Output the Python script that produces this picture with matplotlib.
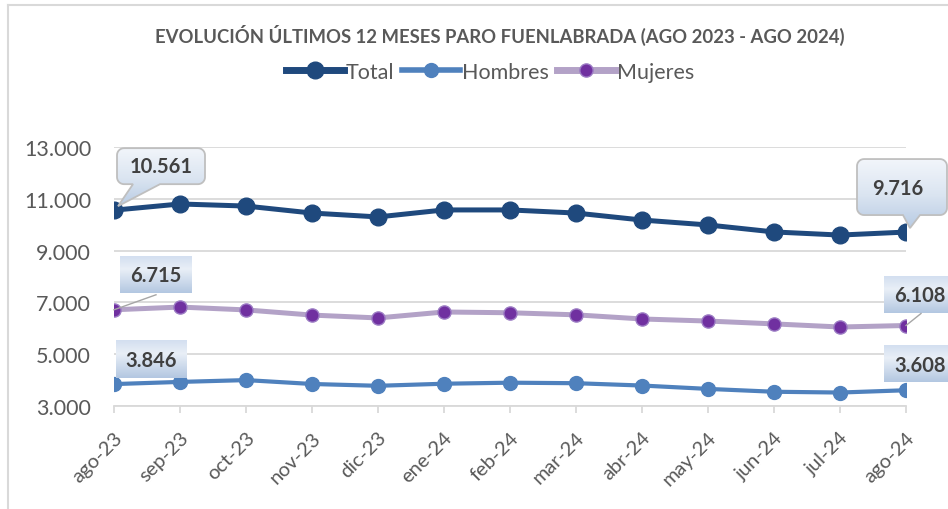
import numpy as np
import matplotlib
matplotlib.use("Agg")
from matplotlib import pyplot as plt
from matplotlib.patches import Polygon, Rectangle
from matplotlib.lines import Line2D
from matplotlib.colors import to_rgb
import matplotlib.transforms as mtrans

plt.rcParams['font.family'] = ['Lato', 'DejaVu Sans']

# datos
meses = ['ago-23', 'sep-23', 'oct-23', 'nov-23', 'dic-23', 'ene-24', 'feb-24',
         'mar-24', 'abr-24', 'may-24', 'jun-24', 'jul-24', 'ago-24']
total = [10561, 10800, 10720, 10450, 10300, 10570, 10570, 10450, 10180, 9990, 9720, 9600, 9716]
hombres = [3846, 3930, 4000, 3850, 3780, 3860, 3900, 3880, 3790, 3660, 3550, 3520, 3608]
mujeres = [6715, 6820, 6710, 6510, 6400, 6630, 6600, 6520, 6360, 6280, 6170, 6050, 6108]
yticks = [3000, 5000, 7000, 9000, 11000, 13000]

W, H = 948, 510
fig = plt.figure(figsize=(W / 100, H / 100), dpi=100)

gris = '#d9d9d9'
txt_gris = '#595959'

ax = fig.add_axes([114 / W, (H - 407) / H, (906 - 114) / W, (407 - 148) / H])
x = np.arange(len(meses))

ax.plot(x, hombres, color='#4f81bd', lw=3.0, marker='o', ms=10, zorder=3, solid_capstyle='round')
ax.plot(x, mujeres, color='#b3a2c7', lw=3.6, marker='o', ms=9.5, mfc='#7030a0', mec='#9c7cc4',
        mew=1, zorder=3)
ax.plot(x, total, color='#1f497d', lw=3.6, marker='o', ms=12, zorder=4)

ax.set_xlim(0, len(meses) - 1)
ax.set_ylim(yticks[0], yticks[-1])
ax.set_yticks(yticks)
ax.set_yticklabels([f"{v:,}".replace(',', '.') for v in yticks])
ax.set_xticks(x)
ax.set_xticklabels(meses, rotation=45, ha='right', va='center', rotation_mode='anchor')
ax.grid(axis='y', color=gris, lw=1.3)
ax.set_axisbelow(True)
for s in ['top', 'right', 'left']:
    ax.spines[s].set_visible(False)
ax.spines['bottom'].set_color(gris)
ax.spines['bottom'].set_linewidth(1.3)
ax.tick_params(axis='y', length=0, pad=16.5, labelsize=15.5, labelcolor=txt_gris)
ax.tick_params(axis='x', length=5, width=1.3, color=gris, pad=15.5, labelsize=14.5, labelcolor=txt_gris)
off = mtrans.ScaledTranslation(4 / 72, 0, fig.dpi_scale_trans)
for lab in ax.get_xticklabels():
    lab.set_transform(lab.get_transform() + off)

# titulo y leyenda
fig.text(500 / W, 1 - 35 / H, 'EVOLUCIÓN ÚLTIMOS 12 MESES PARO FUENLABRADA (AGO 2023 - AGO 2024)',
         ha='center', va='center', fontsize=13.3, fontweight='bold', color=txt_gris)
handles = [
    Line2D([], [], color='#1f497d', lw=5, marker='o', ms=12),
    Line2D([], [], color='#4f81bd', lw=4, marker='o', ms=10),
    Line2D([], [], color='#b3a2c7', lw=5, marker='o', ms=9.5, mfc='#7030a0', mec='#9c7cc4'),
]
fig.legend(handles, ['Total', 'Hombres', 'Mujeres'], loc='center', bbox_to_anchor=(490 / W, 1 - 73 / H),
           ncol=3, frameon=False, fontsize=15.5, handlelength=2.7, handletextpad=0.1,
           columnspacing=0.35, labelcolor=txt_gris)

# capa en pixeles para etiquetas
ov = fig.add_axes([0, 0, 1, 1], zorder=5)
ov.set_xlim(0, W)
ov.set_ylim(H, 0)
ov.axis('off')
ov.patch.set_alpha(0)

ov.plot([8, 8], [6, H], color=gris, lw=1.5)
ov.plot([8, W], [6, 6], color=gris, lw=1.5)


def px(i, v):
    d = ax.transData.transform((i, v))
    return d[0], H - d[1]


def gradiente(stops, n=64):
    pos = np.linspace(0, 1, n)
    cols = np.array([to_rgb(c) for _, c in stops])
    ps = [p for p, _ in stops]
    arr = np.stack([np.interp(pos, ps, cols[:, k]) for k in range(3)], axis=-1)
    return arr[:, None, :]


def llamada(i, v, dx, dy, w, h, base, ytip_off=(4, -4)):
    cx, cy = px(i, v)
    x0, y0 = cx + dx, cy + dy
    x1, y1 = x0 + w, y0 + h
    r = 7
    t = np.linspace(0, np.pi / 2, 8)
    pts = []
    pts += [(x0 + r - r * np.cos(a), y0 + r - r * np.sin(a)) for a in t]
    pts += [(x1 - r + r * np.sin(a), y0 + r - r * np.cos(a)) for a in t]
    pts += [(x1 - r + r * np.cos(a), y1 - r + r * np.sin(a)) for a in t]
    pts += [(cx + base[1], y1), (cx + ytip_off[0], cy + ytip_off[1]), (cx + base[0], y1)]
    pts += [(x0 + r - r * np.sin(a), y1 - r + r * np.cos(a)) for a in t]
    poly = Polygon(pts, closed=True, facecolor='none', edgecolor='#bfbfbf', lw=1.3, zorder=6)
    ov.add_patch(poly)
    ymax = max(y1, cy)
    im = ov.imshow(gradiente([(0, '#f3f6fb'), (0.5, '#dbe5f1'), (1, '#b4c8e2')]),
                   extent=(x0 - 2, x1 + 2, ymax, y0 - 2), aspect='auto', origin='upper', zorder=5)
    im.set_clip_path(poly)
    return x0, y0, x1, y1


def caja(i, v, dx, dy, w, h):
    cx, cy = px(i, v)
    x0, y0 = cx + dx, cy + dy
    rect = Rectangle((x0, y0), w, h, facecolor='none', edgecolor='none')
    ov.add_patch(rect)
    im = ov.imshow(gradiente([(0, '#d3dff0'), (0.35, '#e9eff7'), (1, '#b3c7e1')]),
                   extent=(x0, x0 + w, y0 + h, y0), aspect='auto', origin='upper', zorder=5)
    im.set_clip_path(rect)
    return x0, y0, x0 + w, y0 + h


def fmt(v):
    return f"{v:,}".replace(',', '.')


lab_kw = dict(fontsize=14.5, fontweight='bold', color='#404040', va='center', zorder=7)
n = len(meses) - 1

# Total
b = llamada(0, total[0], 3, -62, 88, 36, (19, 46))
ov.text((b[0] + b[2]) / 2, (b[1] + b[3]) / 2, fmt(total[0]), ha='center', **lab_kw)
b = llamada(n, total[n], -49, -73, 90, 56, (-3, 14))
ov.text((b[0] + b[2]) / 2 - 4, (b[1] + b[3]) / 2 + 1, fmt(total[n]), ha='center', **lab_kw)

# Mujeres
cx, cy = px(0, mujeres[0])
ov.plot([cx, cx + 42], [cy, cy - 15], color='#a6a6a6', lw=1, zorder=6)
b = caja(0, mujeres[0], 6, -54, 72, 37)
ov.text((b[0] + b[2]) / 2, (b[1] + b[3]) / 2 + 1, fmt(mujeres[0]), ha='center', **lab_kw)
cx, cy = px(n, mujeres[n])
ov.plot([cx, cx + 15], [cy, cy - 12], color='#a6a6a6', lw=1, zorder=6)
b = caja(n, mujeres[n], -22, -50, 70, 37)
ov.text(W - 2, (b[1] + b[3]) / 2 + 1, fmt(mujeres[n]), ha='right', **lab_kw)

# Hombres
b = caja(0, hombres[0], 2, -44, 71, 38)
ov.text((b[0] + b[2]) / 2, (b[1] + b[3]) / 2 + 1, fmt(hombres[0]), ha='center', **lab_kw)
b = caja(n, hombres[n], -22, -45, 70, 37)
ov.text(W - 2, (b[1] + b[3]) / 2 + 1, fmt(hombres[n]), ha='right', **lab_kw)

ov.set_xlim(0, W)
ov.set_ylim(H, 0)

fig.savefig('out.png', dpi=100)
